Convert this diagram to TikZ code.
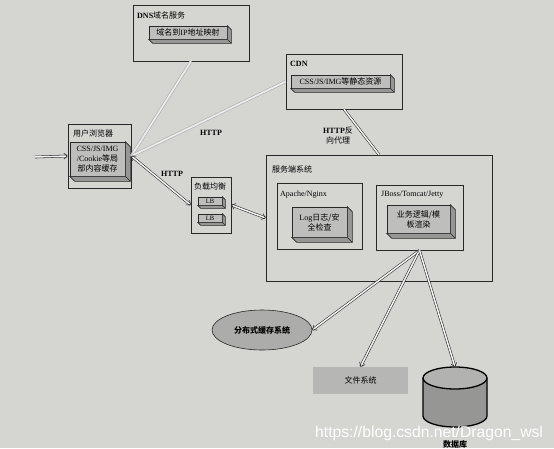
\documentclass[tikz,border=0pt]{standalone}
\usepackage{fontspec}
\setmainfont{Liberation Serif}
\newfontfamily\cjk{Noto Sans CJK SC}
\newfontfamily\wmfont{Liberation Sans}
\usetikzlibrary{arrows.meta,shapes.geometric}
\newcommand\zh[1]{{\cjk #1}}
\definecolor{bg}{RGB}{213,213,210}
\definecolor{facegray}{RGB}{190,190,188}
\definecolor{sidegray}{RGB}{150,150,148}
\definecolor{linegray}{RGB}{40,40,40}
\definecolor{cachegray}{RGB}{172,172,170}
\definecolor{fsgray}{RGB}{182,182,180}
\definecolor{dbbody}{RGB}{150,150,148}
\definecolor{dbtop}{RGB}{178,178,176}
\newcommand\depthbox[2]{%
  \draw[boxline, fill=sidegray] (#1.north east) -- ([shift={(#2,#2)}]#1.north east)
    -- ([shift={(#2,#2)}]#1.south east) -- ([shift={(#2,#2)}]#1.south west)
    -- (#1.south west) -- (#1.south east) -- cycle;
  \draw[boxline] (#1.south east) -- ([shift={(#2,#2)}]#1.south east);}
\tikzset{
  txt/.style={font=\fontsize{8}{10}\selectfont, inner sep=0pt, align=center},
  boxline/.style={draw=linegray, line width=0.6pt},
  outer/.style={boxline, fill=bg, inner sep=0pt},
  front/.style={boxline, fill=facegray, inner sep=0pt, txt},
  pipe/.style={draw=black!85, line width=0.55pt, double=white!92!gray, double distance=1.5pt},
  lightpipe/.style={draw=gray!65, line width=0.6pt, double=white!85!gray, double distance=1.8pt},
  tip/.style={-{Straight Barb[length=3.5pt,width=6pt]}},
  tips/.style={{Straight Barb[length=3.5pt,width=6pt]}-{Straight Barb[length=3.5pt,width=6pt]}},
}
\begin{document}
\begin{tikzpicture}[x=1pt,y=-1pt]
\fill[bg] (0,0) rectangle (554,448);
\useasboundingbox (0,0) rectangle (554,448);

% DNS
\node[outer, minimum width=116pt, minimum height=56pt] (dns) at (191,33) {};
\node[txt, anchor=west] (dnst) at (137,15) {\textbf{DNS}\zh{域名服务}};
\node[front, minimum width=78pt, minimum height=13pt] (dnsin) at (188,32.5) {\zh{域名到}IP\zh{地址映射}};
\depthbox{dnsin}{4}

% CDN
\node[outer, minimum width=116pt, minimum height=55pt] (cdn) at (344,81.5) {};
\node[txt, anchor=west] (cdnt) at (290,64) {\textbf{CDN}};
\node[front, minimum width=99pt, minimum height=13pt] (cdnin) at (340.5,81.5) {CSS/JS/IMG\zh{等静态资源}};
\depthbox{cdnin}{4}

% Browser
\node[outer, minimum width=63pt, minimum height=64pt] (br) at (99.5,156) {};
\node[txt, anchor=west] (brt) at (73,133) {\zh{用户浏览器}};
\node[front, minimum width=55pt, minimum height=34pt] (brin) at (97.5,159) {CSS/JS/IMG\\/Cookie\zh{等局}\\\zh{部内容缓存}};
\depthbox{brin}{5}
\coordinate (in) at (35,157);

% Load balancer
\node[outer, minimum width=40pt, minimum height=56pt] (lb) at (211,205) {};
\node[txt, anchor=west] (lbt) at (194,186) {\zh{负载均衡}};
\node[front, minimum width=24pt, minimum height=8pt, font=\fontsize{6.5}{7}\selectfont] (lb1) at (210,201) {LB};
\depthbox{lb1}{3}
\node[front, minimum width=24pt, minimum height=8pt, font=\fontsize{6.5}{7}\selectfont] (lb2) at (210,218) {LB};
\depthbox{lb2}{3}

% Server system
\node[outer, minimum width=226pt, minimum height=126pt] (srv) at (379,218) {};
\node[txt, anchor=west] (srvt) at (272,169) {\zh{服务端系统}};
\node[outer, minimum width=85pt, minimum height=66pt] (ap) at (319.5,216) {};
\node[txt, anchor=west] (apt) at (280,195) {Apache/Nginx};
\node[front, minimum width=55pt, minimum height=30pt] (apin) at (319.5,222) {Log\zh{日志/安}\\\zh{全检查}};
\depthbox{apin}{5}
\node[outer, minimum width=87pt, minimum height=65pt] (jb) at (419.5,217.5) {};
\node[txt, anchor=west] (jbt) at (381,195) {JBoss/Tomcat/Jetty};
\node[front, minimum width=63pt, minimum height=28pt] (jbin) at (418.5,219) {\zh{业务逻辑/模}\\\zh{板渲染}};
\depthbox{jbin}{5}

% Storage
\node[ellipse, boxline, fill=cachegray, minimum width=100pt, minimum height=40pt, inner sep=0pt, txt] (cache) at (262,330) {\zh{\bfseries 分布式缓存系统}};
\node[fill=fsgray, minimum width=95pt, minimum height=27pt, inner sep=0pt, txt] (fs) at (360.5,380.5) {\zh{文件系统}};
\draw[line width=1.3pt, fill=dbbody] (423,378) -- (423,416)
  arc[start angle=180, end angle=360, x radius=32pt, y radius=11pt] -- (487,378);
\draw[line width=1.3pt, fill=dbtop] (455,378) ellipse [x radius=32pt, y radius=11pt];
\coordinate (db) at (455,367);
\node[txt] (dbt) at (455,444) {\zh{\bfseries 数据库}};

% Labels
\node[txt] (h1) at (211,133) {\textbf{HTTP}};
\node[txt] (h2) at (172,174) {\textbf{HTTP}};
\node[txt] (h3) at (338,135) {\textbf{HTTP}\zh{反}\\\zh{向代理}};

% Connectors
\draw[lightpipe] (br.east) -- (dns.south);
\draw[lightpipe] (br.east) -- (cdn.west);
\draw[pipe, tip] (in) -- (br.west);
\draw[pipe, tips] (br.east) -- (lb.west);
\draw[pipe, tips] (lb.east) -- (srv.west);
\draw[pipe] (cdn.south) -- (srv.north);
\draw[pipe, tip] (jb.south) -- (cache.east);
\draw[pipe, tip] (jb.south) -- (fs.north);
\draw[pipe, tip] (jb.south) -- (db);

% Watermark
\node[anchor=base west, inner sep=0pt, text=white, font=\wmfont\fontsize{15.7}{16}\selectfont] (wm) at (315,437) {https://blog.csdn.net/Dragon\_wsl};
\end{tikzpicture}
\end{document}
